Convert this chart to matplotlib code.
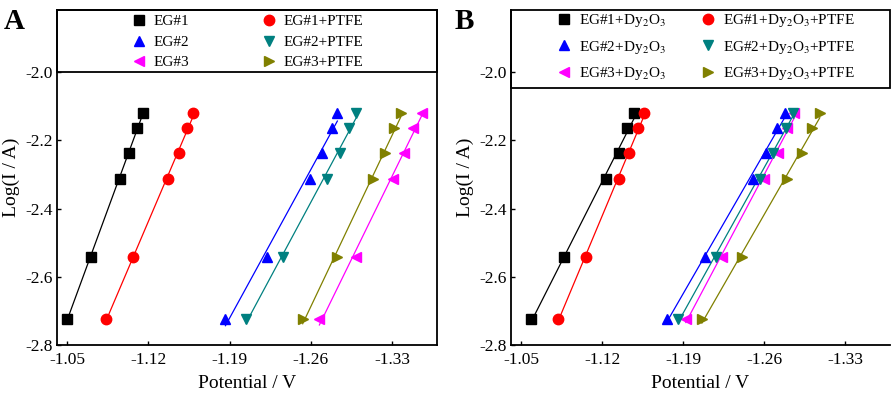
import matplotlib
matplotlib.use("Agg")
import matplotlib.pyplot as plt
import numpy as np
from matplotlib.patches import Rectangle

plt.rcParams['font.family'] = ['Liberation Serif', 'DejaVu Serif']
plt.rcParams['mathtext.fontset'] = 'stix'

# log(I/A) levels (same for every series)
logI = [-2.725, -2.541, -2.313, -2.236, -2.165, -2.119]

# Panel A potentials (V)
A_labels = ["EG#1", "EG#2", "EG#3", "EG#1+PTFE", "EG#2+PTFE", "EG#3+PTFE"]
A_eg1 = [-1.0497, -1.0704, -1.0951, -1.1037, -1.1100, -1.1152]
A_eg2 = [-1.1864, -1.2220, -1.2593, -1.2697, -1.2780, -1.2829]
A_eg3 = [-1.2674, -1.2990, -1.3311, -1.3406, -1.3484, -1.3556]
A_eg1p = [-1.0833, -1.1071, -1.1373, -1.1465, -1.1534, -1.1583]
A_eg2p = [-1.2042, -1.2358, -1.2737, -1.2852, -1.2927, -1.2987]
A_eg3p = [-1.2530, -1.2823, -1.3139, -1.3240, -1.3320, -1.3375]

# Panel B potentials (V)
B_labels = ["EG#1+Dy$_2$O$_3$", "EG#2+Dy$_2$O$_3$", "EG#3+Dy$_2$O$_3$",
            "EG#1+Dy$_2$O$_3$+PTFE", "EG#2+Dy$_2$O$_3$+PTFE", "EG#3+Dy$_2$O$_3$+PTFE"]
B_eg1 = [-1.0586, -1.0874, -1.1237, -1.1347, -1.1419, -1.1476]
B_eg2 = [-1.1759, -1.2090, -1.2502, -1.2617, -1.2709, -1.2781]
B_eg3 = [-1.1923, -1.2234, -1.2602, -1.2723, -1.2801, -1.2859]
B_eg1p = [-1.0817, -1.1059, -1.1347, -1.1436, -1.1508, -1.1565]
B_eg2p = [-1.1859, -1.2182, -1.2560, -1.2675, -1.2787, -1.2853]
B_eg3p = [-1.2062, -1.2407, -1.2800, -1.2925, -1.3017, -1.3081]

xticks = [-1.05, -1.12, -1.19, -1.26, -1.33]
yticks = [-2.8, -2.6, -2.4, -2.2, -2.0]

colors = ['black', 'blue', 'magenta', 'red', '#008080', '#808000']
markers = ['s', '^', '<', 'o', 'v', '>']
msizes = [6.5, 7.5, 7.5, 7.5, 7.5, 7.5]

fig = plt.figure(figsize=(8.92, 3.96), dpi=100)
W, H = 892, 396
axA = fig.add_axes([57 / W, (H - 345) / H, 380 / W, 335 / H])
axB = fig.add_axes([511 / W, (H - 345) / H, 379 / W, 335 / H])

XLIM = (-1.0412, -1.3688)
YLIM = (-2.8, -1.818)


def draw(ax, series, labels, box_bottom, col_x, mid_y, lspacing):
    handles = []
    for xs, lab, c, m, ms in zip(series, labels, colors, markers, msizes):
        xs = np.array(xs)
        ys = np.array(logI)
        p = np.polyfit(xs, ys, 1)
        xx = np.array([xs.min(), xs.max()])
        ax.plot(xx, np.polyval(p, xx), color=c, lw=0.9, zorder=2)
        h, = ax.plot(xs, ys, linestyle='none', marker=m, color=c, ms=ms,
                     label=lab, zorder=3)
        handles.append(h)
    ax.set_xlim(*XLIM)
    ax.set_ylim(*YLIM)
    ax.set_xticks(xticks)
    ax.set_xticklabels([f"{t:.2f}" for t in xticks])
    ax.set_yticks(yticks)
    ax.set_yticklabels([f"{t:.1f}" for t in yticks])
    ax.tick_params(direction='in', length=3, width=1, labelsize=12.5)
    ax.tick_params(axis='x', pad=5)
    ax.tick_params(axis='y', pad=3)
    for s in ax.spines.values():
        s.set_linewidth(1.3)
    ax.set_xlabel("Potential / V", fontsize=14, labelpad=5)
    ax.set_ylabel("Log(I / A)", fontsize=14, labelpad=4)
    yb = (box_bottom - YLIM[0]) / (YLIM[1] - YLIM[0])
    ax.add_patch(Rectangle((0, yb), 1, 1 - yb, transform=ax.transAxes,
                           fill=False, edgecolor='black', lw=1.3,
                           clip_on=False, zorder=5))
    leg1 = ax.legend(handles[:3], labels[:3], loc='center left',
                     bbox_to_anchor=(col_x[0], mid_y), frameon=False,
                     fontsize=11, handlelength=1.0, handletextpad=0.5,
                     labelspacing=lspacing, borderpad=0, borderaxespad=0)
    ax.add_artist(leg1)
    ax.legend(handles[3:], labels[3:], loc='center left',
              bbox_to_anchor=(col_x[1], mid_y), frameon=False,
              fontsize=11, handlelength=1.0, handletextpad=0.5,
              labelspacing=lspacing, borderpad=0, borderaxespad=0)


draw(axA, [A_eg1, A_eg2, A_eg3, A_eg1p, A_eg2p, A_eg3p], A_labels, -2.0,
     ((131 - 57) / 380, (261 - 57) / 380), 1 - (42.0 - 10) / 335, 0.45)

draw(axB, [B_eg1, B_eg2, B_eg3, B_eg1p, B_eg2p, B_eg3p], B_labels, -2.047,
     ((556 - 511) / 379, (700 - 511) / 379), 1 - (47.0 - 10) / 335, 0.62)
axB.spines['top'].set_visible(False)
axB.spines['right'].set_visible(False)

fig.text(4 / W, 1 - 8 / H, "A", fontsize=21, fontweight='bold', va='top', ha='left')
fig.text(455 / W, 1 - 8 / H, "B", fontsize=21, fontweight='bold', va='top', ha='left')

fig.savefig("out.png", dpi=100)
